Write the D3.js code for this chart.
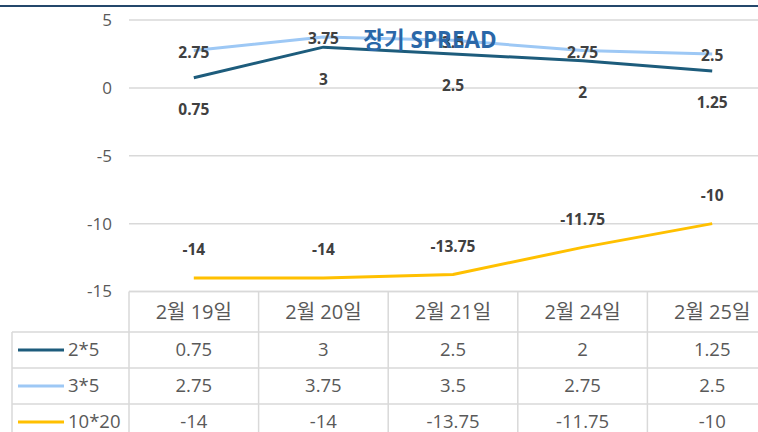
<!DOCTYPE html>
<html>
<head>
<meta charset="utf-8">
<script src="https://cdn.jsdelivr.net/npm/d3@7"></script>
<style>
  html, body { margin: 0; padding: 0; background: #ffffff; overflow: hidden; }
  svg { display: block; font-family: "Open Sans", "Noto Sans CJK KR", sans-serif; }
</style>
</head>
<body>
<svg id="chart" width="758" height="432"></svg>
<script>
// data
var categories = ["2월 19일", "2월 20일", "2월 21일", "2월 24일", "2월 25일"];
var seriesNames = ["2*5", "3*5", "10*20"];
var s2x5 = [0.75, 3, 2.5, 2, 1.25];
var s3x5 = [2.75, 3.75, 3.5, 2.75, 2.5];
var s10x20 = [-14, -14, -13.75, -11.75, -10];
var yTicks = [5, 0, -5, -10, -15];

var colors = ["#1d5c7c", "#9dc8f5", "#ffc000"];
var labelOffsets = [32, 2, -28]; // where the data labels sit relative to the point
var allSeries = [s2x5, s3x5, s10x20];

var svg = d3.select("#chart");

var x = d3.scaleBand().domain(categories).range([129, 777]).padding(0);
var y = d3.scaleLinear().domain([-15, 5]).range([291.5, 20]);
var cx = function(c) { return x(c) + x.bandwidth() / 2; };

// top rule
svg.append("line")
  .attr("x1", 0).attr("x2", 758).attr("y1", 6).attr("y2", 6)
  .attr("stroke", "#24476b").attr("stroke-width", 2);

// gridlines
svg.append("g").selectAll("line")
  .data(yTicks)
  .join("line")
  .attr("x1", 129).attr("x2", 758)
  .attr("y1", d => y(d)).attr("y2", d => y(d))
  .attr("stroke", "#d9d9d9").attr("stroke-width", 1.5);

// y tick labels
svg.append("g").selectAll("text")
  .data(yTicks)
  .join("text")
  .attr("x", 112).attr("y", d => y(d))
  .attr("dy", "0.35em")
  .attr("text-anchor", "end")
  .attr("font-size", 17)
  .attr("fill", "#595959")
  .text(d => d);

// lines
var line = d3.line().x((d, i) => cx(categories[i])).y(d => y(d));
allSeries.forEach(function(vals, k) {
  svg.append("path")
    .datum(vals)
    .attr("d", line)
    .attr("fill", "none")
    .attr("stroke", colors[k])
    .attr("stroke-width", 3)
    .attr("stroke-linejoin", "round");
});

// data labels
allSeries.forEach(function(vals, k) {
  svg.append("g").selectAll("text")
    .data(vals)
    .join("text")
    .attr("x", (d, i) => cx(categories[i]))
    .attr("y", d => y(d) + labelOffsets[k])
    .attr("dy", "0.35em")
    .attr("text-anchor", "middle")
    .attr("font-size", 15.5)
    .attr("font-weight", "bold")
    .attr("fill", "#404040")
    .text(d => d);
});

// title (drawn over lines)
svg.append("text")
  .attr("x", 430).attr("y", 40)
  .attr("dy", "0.35em")
  .attr("text-anchor", "middle")
  .attr("font-size", 22.5)
  .attr("font-weight", "bold")
  .attr("fill", "#2a67a8")
  .text("장기 SPREAD");

// data table
var rowY = [291.5, 332, 368, 404, 440];
var border = "#d9d9d9";
var tbl = svg.append("g");

// horizontal borders
rowY.forEach(function(ry, r) {
  tbl.append("line")
    .attr("x1", r === 0 ? 129 : 12).attr("x2", 758)
    .attr("y1", ry).attr("y2", ry)
    .attr("stroke", border).attr("stroke-width", 1.5);
});
// vertical borders
var colEdges = categories.map(c => x(c)).concat([x.range()[1]]);
colEdges.forEach(function(ex) {
  tbl.append("line")
    .attr("x1", ex).attr("x2", ex)
    .attr("y1", rowY[0]).attr("y2", 432)
    .attr("stroke", border).attr("stroke-width", 1.5);
});
tbl.append("line")
  .attr("x1", 12).attr("x2", 12)
  .attr("y1", rowY[1]).attr("y2", 432)
  .attr("stroke", border).attr("stroke-width", 1.5);

// header
tbl.append("g").selectAll("text")
  .data(categories)
  .join("text")
  .attr("x", d => cx(d))
  .attr("y", (rowY[0] + rowY[1]) / 2)
  .attr("dy", "0.35em")
  .attr("text-anchor", "middle")
  .attr("font-size", 20)
  .attr("fill", "#595959")
  .text(d => d);

// rows
allSeries.forEach(function(vals, k) {
  var my = (rowY[k + 1] + rowY[k + 2]) / 2;
  tbl.append("line")
    .attr("x1", 18).attr("x2", 64).attr("y1", my).attr("y2", my)
    .attr("stroke", colors[k]).attr("stroke-width", 3);
  tbl.append("text")
    .attr("x", 68).attr("y", my).attr("dy", "0.35em")
    .attr("font-size", 18.5).attr("fill", "#595959")
    .text(seriesNames[k]);
  tbl.append("g").selectAll("text")
    .data(vals)
    .join("text")
    .attr("x", (d, i) => cx(categories[i]))
    .attr("y", my)
    .attr("dy", "0.35em")
    .attr("text-anchor", "middle")
    .attr("font-size", 18.5)
    .attr("fill", "#595959")
    .text(d => d);
});
</script>
</body>
</html>
